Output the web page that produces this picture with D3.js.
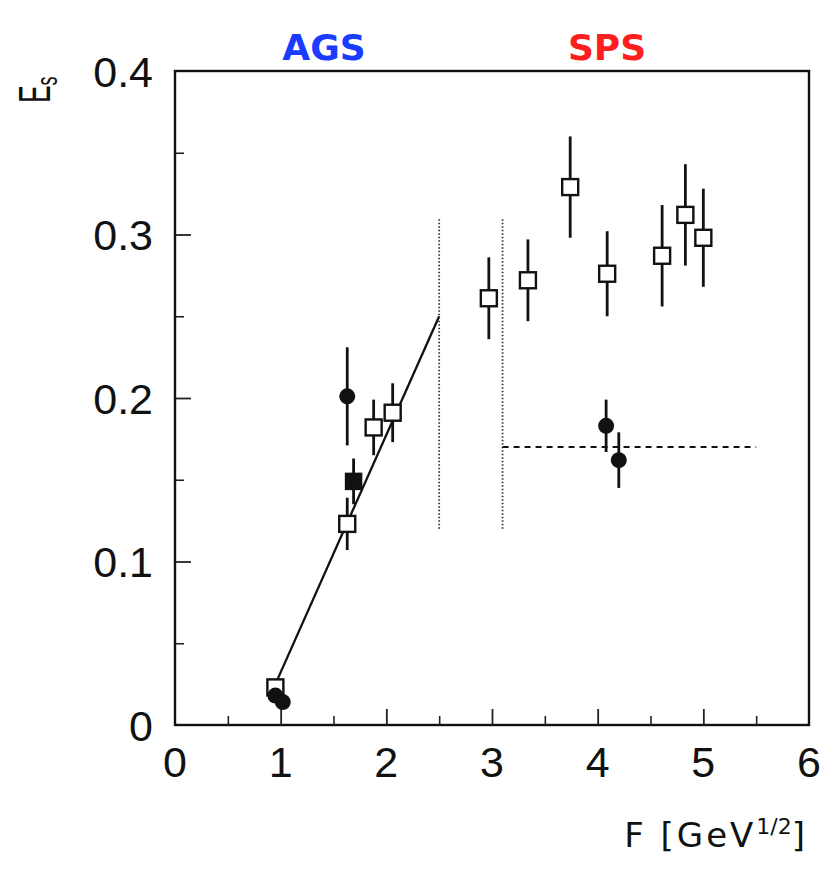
<!DOCTYPE html>
<html>
<head>
<meta charset="utf-8">
<script src="https://cdn.jsdelivr.net/npm/d3@7"></script>
<style>
  html, body { margin: 0; padding: 0; background: #fff; }
  svg { display: block; }
</style>
</head>
<body>
<svg id="chart" width="821" height="872"></svg>
<script>
// Strangeness measure Es versus Fermi variable F
const xTicks = [0, 1, 2, 3, 4, 5, 6];
const yTicks = [0, 0.1, 0.2, 0.3, 0.4];
const yTickLabels = ["0", "0.1", "0.2", "0.3", "0.4"];

// open squares: [F, Es, error]
const openSquares = [
  [0.95, 0.023, 0],
  [1.63, 0.123, 0.016],
  [1.88, 0.182, 0.017],
  [2.06, 0.191, 0.018],
  [2.97, 0.261, 0.025],
  [3.34, 0.272, 0.025],
  [3.74, 0.329, 0.031],
  [4.09, 0.276, 0.026],
  [4.61, 0.287, 0.031],
  [4.83, 0.312, 0.031],
  [5.00, 0.298, 0.030]
];
// filled squares
const filledSquares = [
  [1.69, 0.149, 0.014]
];
// filled circles
const filledCircles = [
  [0.95, 0.018, 0],
  [1.02, 0.014, 0],
  [1.63, 0.201, 0.030],
  [4.08, 0.183, 0.016],
  [4.20, 0.162, 0.017]
];
// linear rise over the AGS range
const riseLine = [[0.95, 0.025], [2.5, 0.25]];
// dotted vertical markers
const dottedLines = [
  [[2.5, 0.12], [2.5, 0.31]],
  [[3.1, 0.12], [3.1, 0.31]]
];
// dashed plateau level
const plateauLine = [[3.1, 0.17], [5.5, 0.17]];

const svg = d3.select("#chart");
const plotL = 175, plotR = 809, plotT = 71, plotB = 725;

const x = d3.scaleLinear().domain([0, 6]).range([plotL, plotR]);
const y = d3.scaleLinear().domain([0, 0.4]).range([plotB, plotT]);

const font = "'Liberation Sans', Arial, Helvetica, sans-serif";

// frame
svg.append("rect")
  .attr("x", plotL).attr("y", plotT)
  .attr("width", plotR - plotL).attr("height", plotB - plotT)
  .attr("fill", "none").attr("stroke", "#111").attr("stroke-width", 2.4);

// x axis ticks (inside)
const xMinor = d3.range(0.5, 6, 1);
const xAxis = d3.axisTop(x).tickValues(xTicks.slice(1, -1)).tickSize(16).tickFormat("");
const gx = svg.append("g").attr("transform", `translate(0,${plotB})`).call(xAxis);
gx.select(".domain").remove();
gx.selectAll("line").attr("stroke", "#222").attr("stroke-width", 1.8);
const xAxisMinor = d3.axisTop(x).tickValues(xMinor).tickSize(9).tickFormat("");
const gxm = svg.append("g").attr("transform", `translate(0,${plotB})`).call(xAxisMinor);
gxm.select(".domain").remove();
gxm.selectAll("line").attr("stroke", "#222").attr("stroke-width", 1.6);

svg.append("g").selectAll("text").data(xTicks).join("text")
  .attr("x", d => x(d)).attr("y", plotB + 52)
  .attr("text-anchor", "middle")
  .attr("font-family", font).attr("font-size", 43).attr("fill", "#111")
  .text(d => d);

// y axis ticks (inside)
const yMinor = d3.range(0.05, 0.4, 0.1);
const yAxis = d3.axisRight(y).tickValues(yTicks.slice(1, -1)).tickSize(16).tickFormat("");
const gy = svg.append("g").attr("transform", `translate(${plotL},0)`).call(yAxis);
gy.select(".domain").remove();
gy.selectAll("line").attr("stroke", "#222").attr("stroke-width", 1.8);
const yAxisMinor = d3.axisRight(y).tickValues(yMinor).tickSize(9).tickFormat("");
const gym = svg.append("g").attr("transform", `translate(${plotL},0)`).call(yAxisMinor);
gym.select(".domain").remove();
gym.selectAll("line").attr("stroke", "#222").attr("stroke-width", 1.6);

svg.append("g").selectAll("text").data(yTicks).join("text")
  .attr("x", plotL - 22).attr("y", d => y(d) + 15.5)
  .attr("text-anchor", "end")
  .attr("font-family", font).attr("font-size", 43).attr("fill", "#111")
  .text((d, i) => yTickLabels[i]);

// axis titles
const yTitle = svg.append("text")
  .attr("transform", "translate(50,103) rotate(-90) scale(0.6,1)")
  .attr("font-family", font).attr("font-size", 44).attr("fill", "#111");
yTitle.append("tspan").text("E");
yTitle.append("tspan").attr("font-size", 30).attr("dy", 7).text("s");

const xTitle = svg.append("text")
  .attr("x", 808).attr("y", 847)
  .attr("text-anchor", "end")
  .attr("letter-spacing", 3)
  .attr("font-family", "'DejaVu Sans', sans-serif").attr("font-size", 34).attr("fill", "#111");
xTitle.append("tspan").text("F [GeV");
xTitle.append("tspan").attr("font-size", 22).attr("dy", -13).attr("letter-spacing", 0).text("1/2");
xTitle.append("tspan").attr("dy", 13).text("]");

// beam labels
svg.append("text").attr("x", 324).attr("y", 60).attr("text-anchor", "middle")
  .attr("font-family", "'DejaVu Sans', sans-serif").attr("font-weight", "bold")
  .attr("font-size", 36).attr("fill", "#1a3cff").text("AGS");
svg.append("text").attr("x", 607).attr("y", 60).attr("text-anchor", "middle")
  .attr("font-family", "'DejaVu Sans', sans-serif").attr("font-weight", "bold")
  .attr("font-size", 36).attr("fill", "#ff1e1e").text("SPS");

const line = d3.line().x(d => x(d[0])).y(d => y(d[1]));

// reference lines
svg.append("path").datum(riseLine).attr("d", line)
  .attr("fill", "none").attr("stroke", "#111").attr("stroke-width", 2.3);
svg.append("g").selectAll("path").data(dottedLines).join("path")
  .attr("d", line).attr("fill", "none").attr("stroke", "#333")
  .attr("stroke-width", 1.8).attr("stroke-dasharray", "1.5,2");
svg.append("path").datum(plateauLine).attr("d", line)
  .attr("fill", "none").attr("stroke", "#111").attr("stroke-width", 2)
  .attr("stroke-dasharray", "6,5");

// error bars
const allPts = openSquares.concat(filledSquares, filledCircles).filter(d => d[2] > 0);
svg.append("g").selectAll("line").data(allPts).join("line")
  .attr("x1", d => x(d[0])).attr("x2", d => x(d[0]))
  .attr("y1", d => y(d[1] - d[2])).attr("y2", d => y(d[1] + d[2]))
  .attr("stroke", "#111").attr("stroke-width", 2.8);

// markers
const sq = 16;
svg.append("g").selectAll("rect").data(openSquares).join("rect")
  .attr("x", d => x(d[0]) - sq / 2).attr("y", d => y(d[1]) - sq / 2)
  .attr("width", sq).attr("height", sq)
  .attr("fill", "#fff").attr("stroke", "#111").attr("stroke-width", 2.4);
svg.append("g").selectAll("rect").data(filledSquares).join("rect")
  .attr("x", d => x(d[0]) - sq / 2).attr("y", d => y(d[1]) - sq / 2)
  .attr("width", sq).attr("height", sq)
  .attr("fill", "#111").attr("stroke", "#111").attr("stroke-width", 1.5);
svg.append("g").selectAll("circle").data(filledCircles).join("circle")
  .attr("cx", d => x(d[0])).attr("cy", d => y(d[1])).attr("r", 8)
  .attr("fill", "#111");
</script>
</body>
</html>
